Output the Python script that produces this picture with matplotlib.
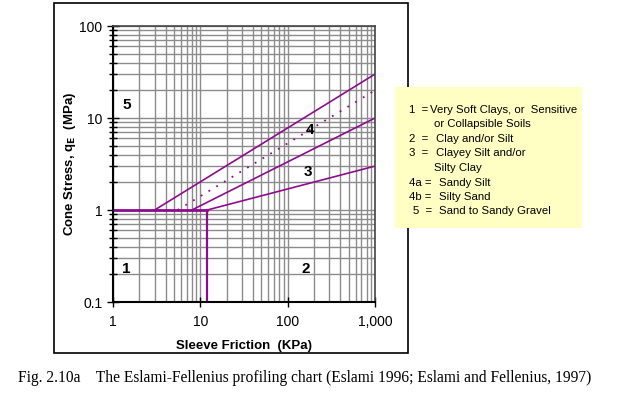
import numpy as np
import matplotlib
matplotlib.use("Agg")
import matplotlib.pyplot as plt
from matplotlib.patches import Rectangle
from matplotlib.ticker import FixedLocator, FixedFormatter, LogLocator, NullFormatter

# boundary lines (sleeve friction KPa, cone stress MPa)
upper_fs = [3, 1000]
upper_qe = [1, 30]
dotted_fs = [5.5, 1000]
dotted_qe = [1, 20]
mid_fs = [8, 1000]
mid_qe = [1, 10]
low_fs = [12, 1000]
low_qe = [1, 3]
base_fs = [1, 12]
base_qe = [1, 1]
vert_fs = [12, 12]
vert_qe = [0.1, 1]

# zone labels
zone_names = ["5", "4", "3", "1", "2"]
zone_fs = [1.45, 180, 170, 1.4, 160]
zone_qe = [14, 7.4, 2.6, 0.23, 0.23]

x_ticks = [1, 10, 100, 1000]
x_ticklabels = ["1", "10", "100", "1,000"]
y_ticks = [0.1, 1, 10, 100]
y_ticklabels = ["0.1", "1", "10", "100"]

legend_keys = ["1  =", "", "2  =", "3  =", "", "4a =", "4b =", "5  ="]
legend_desc = ["Very Soft Clays, or  Sensitive", "or Collapsible Soils",
               "Clay and/or Silt", "Clayey Silt and/or", "Silty Clay",
               "Sandy Silt", "Silty Sand", "Sand to Sandy Gravel"]

W, H = 621, 394
fig = plt.figure(figsize=(W / 100, H / 100), dpi=100)
plt.rcParams["font.family"] = ["Liberation Sans", "DejaVu Sans"]

# outer frame
fig.patches.append(Rectangle((54 / W, 1 - 353 / H), (408 - 54) / W, (353 - 3) / H,
                             transform=fig.transFigure, fill=False,
                             edgecolor="black", lw=1.2))

ax = fig.add_axes([113 / W, 1 - 302 / H, 262 / W, 276 / H])
ax.set_xscale("log")
ax.set_yscale("log")
ax.set_xlim(1, 1000)
ax.set_ylim(0.1, 100)

ax.grid(True, which="both", color="#8c8c8c", lw=1.0)
ax.set_axisbelow(True)

purple = "#8e0c8e"
ax.plot(base_fs, base_qe, color=purple, lw=2.0)
ax.plot(vert_fs, vert_qe, color=purple, lw=1.6)
ax.plot(upper_fs, upper_qe, color=purple, lw=1.2)
ax.plot(dotted_fs, dotted_qe, color=purple, lw=1.3, ls=(0, (1, 4)))
ax.plot(mid_fs, mid_qe, color=purple, lw=1.2)
ax.plot(low_fs, low_qe, color=purple, lw=1.2)

for name, fs, qe in zip(zone_names, zone_fs, zone_qe):
    ax.text(fs, qe, name, fontsize=11, fontweight="bold", ha="center", va="center")

ax.xaxis.set_major_locator(FixedLocator(x_ticks))
ax.xaxis.set_major_formatter(FixedFormatter(x_ticklabels))
ax.xaxis.set_minor_formatter(NullFormatter())
ax.yaxis.set_major_locator(FixedLocator(y_ticks))
ax.yaxis.set_major_formatter(FixedFormatter(y_ticklabels))
ax.yaxis.set_minor_locator(LogLocator(base=10, subs=np.arange(2, 10)))
ax.yaxis.set_minor_formatter(NullFormatter())
ax.tick_params(axis="x", which="major", direction="inout", length=7, width=1, labelsize=10, pad=6)
ax.tick_params(axis="x", which="minor", length=0)
ax.tick_params(axis="y", which="major", direction="inout", length=9, width=1, labelsize=10, pad=3)
ax.tick_params(axis="y", which="minor", direction="inout", length=6, width=1)

for side in ["left", "bottom"]:
    ax.spines[side].set_linewidth(1.5)
    ax.spines[side].set_color("black")
for side in ["top", "right"]:
    ax.spines[side].set_linewidth(1.2)
    ax.spines[side].set_color("#444444")

ax.set_xlabel("Sleeve Friction  (KPa)", fontsize=9.5, fontweight="bold", labelpad=8)
ax.set_ylabel(r"Cone Stress, q$_{\mathbf{E}}$  (MPa)", fontsize=9.5, fontweight="bold")
ax.yaxis.set_label_coords(-0.135, 0.5)

# legend box
fig.patches.append(Rectangle((395 / W, 1 - 228 / H), (582 - 395) / W, (228 - 87) / H,
                             transform=fig.transFigure, facecolor="#ffffc4",
                             edgecolor="none"))
key_x = [409, 409, 409, 409, 409, 409, 409, 413]
desc_x = [430, 434, 436, 436, 434, 439, 439, 439]
line_y = [110, 124, 139, 153, 168, 183, 197, 211]
for k, d, kx, dx, ly in zip(legend_keys, legend_desc, key_x, desc_x, line_y):
    fig.text(kx / W, 1 - ly / H, k, fontsize=8.2, va="center", ha="left")
    fig.text(dx / W, 1 - ly / H, d, fontsize=8.2, va="center", ha="left")

fig.text(18 / W, 1 - 378 / H,
         "Fig. 2.10a    The Eslami-Fellenius profiling chart (Eslami 1996; Eslami and Fellenius, 1997)",
         fontsize=11.2, family="Liberation Serif", va="center", ha="left")

fig.savefig("out.png", dpi=100)
